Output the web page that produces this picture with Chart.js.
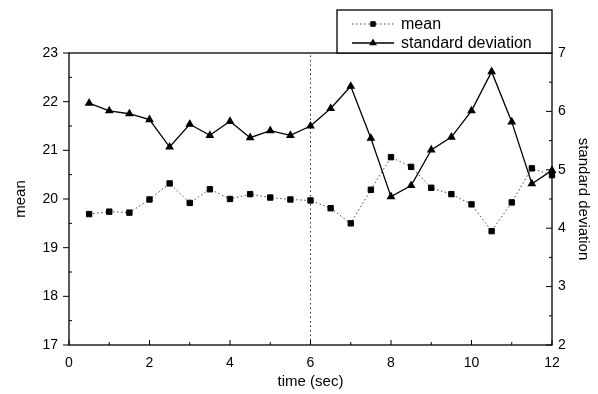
<!DOCTYPE html>
<html>
<head>
<meta charset="utf-8">
<script src="https://cdn.jsdelivr.net/npm/chart.js@4/dist/chart.umd.min.js"></script>
<style>
  html, body { margin: 0; padding: 0; background: #fff; }
  canvas { display: block; }
</style>
</head>
<body>
<canvas id="statsChart" width="598" height="394"></canvas>
<script>
// Time samples (sec)
const times = [0.5, 1, 1.5, 2, 2.5, 3, 3.5, 4, 4.5, 5, 5.5, 6,
               6.5, 7, 7.5, 8, 8.5, 9, 9.5, 10, 10.5, 11, 11.5, 12];

// Mean values (left axis)
const meanValues = [19.69, 19.74, 19.72, 19.99, 20.32, 19.92, 20.20, 20.00, 20.10, 20.03, 19.99, 19.97,
                    19.81, 19.50, 20.19, 20.86, 20.66, 20.23, 20.10, 19.89, 19.34, 19.93, 20.63, 20.49];

// Standard deviation values (right axis)
const stdValues = [6.14, 6.01, 5.96, 5.86, 5.39, 5.78, 5.59, 5.83, 5.55, 5.67, 5.59, 5.75,
                   6.05, 6.43, 5.54, 4.54, 4.73, 5.34, 5.56, 6.01, 6.68, 5.82, 4.76, 4.99];

// Vertical marker at t = 6 s
const markerTime = 6;

// Axis ranges and tick steps
const xRange = [0, 12];
const meanRange = [17, 23];
const stdRange = [2, 7];
const legendLabels = ['mean', 'standard deviation'];

const FONT = "'Liberation Sans', Arial, sans-serif";

const toPoints = (ys) => times.map((t, i) => ({ x: t, y: ys[i] }));

// Frame, tick marks and the legend box
const framePlugin = {
  id: 'frame',
  afterDraw(chart) {
    const { ctx, chartArea: a, scales } = chart;
    ctx.save();
    ctx.strokeStyle = '#000';
    ctx.lineWidth = 1.3;
    ctx.strokeRect(a.left, a.top, a.right - a.left, a.bottom - a.top);

    ctx.lineWidth = 1;
    ctx.beginPath();
    // bottom axis: major every 2, minor every 1, pointing inward
    for (let v = xRange[0]; v <= xRange[1]; v += 1) {
      const px = scales.x.getPixelForValue(v);
      const len = v % 2 === 0 ? 5 : 3;
      ctx.moveTo(px, a.bottom);
      ctx.lineTo(px, a.bottom - len);
    }
    // left axis: major outward, minor inward
    for (let v = meanRange[0]; v <= meanRange[1]; v += 0.5) {
      const py = scales.y.getPixelForValue(v);
      if (Number.isInteger(v)) {
        ctx.moveTo(a.left - 6, py);
        ctx.lineTo(a.left, py);
      } else {
        ctx.moveTo(a.left, py);
        ctx.lineTo(a.left + 3, py);
      }
    }
    // right axis: all inward
    for (let v = stdRange[0]; v <= stdRange[1]; v += 0.5) {
      const py = scales.y1.getPixelForValue(v);
      const len = Number.isInteger(v) ? 6 : 3;
      ctx.moveTo(a.right, py);
      ctx.lineTo(a.right - len, py);
    }
    ctx.stroke();

    // legend
    const box = { left: 337, top: 10, right: a.right, bottom: a.top };
    ctx.fillStyle = '#fff';
    ctx.fillRect(box.left, box.top, box.right - box.left, box.bottom - box.top);
    ctx.lineWidth = 1.3;
    ctx.strokeRect(box.left, box.top, box.right - box.left, box.bottom - box.top);

    const rows = [box.top + 14, box.top + 33];
    chart.data.datasets.slice(0, 2).forEach((ds, i) => {
      const y = rows[i];
      ctx.beginPath();
      ctx.strokeStyle = ds.borderColor;
      ctx.lineWidth = ds.borderWidth;
      ctx.setLineDash(ds.borderDash || []);
      ctx.moveTo(352, y);
      ctx.lineTo(394, y);
      ctx.stroke();
      ctx.setLineDash([]);
      ctx.fillStyle = ds.pointBackgroundColor;
      ctx.strokeStyle = ds.pointBorderColor;
      Chart.helpers.drawPoint(ctx, {
        pointStyle: ds.pointStyle, radius: ds.pointRadius - 0.6, borderWidth: 1
      }, 373, y);
      ctx.fillStyle = '#000';
      ctx.font = '16px ' + FONT;
      ctx.textBaseline = 'middle';
      ctx.fillText(legendLabels[i], 401, y + 1);
    });
    ctx.restore();
  }
};

const ctx = document.getElementById('statsChart').getContext('2d');
new Chart(ctx, {
  type: 'line',
  data: {
    datasets: [
      {
        label: legendLabels[0],
        data: toPoints(meanValues),
        yAxisID: 'y',
        borderColor: '#444',
        borderWidth: 1,
        borderDash: [1.5, 2.5],
        pointStyle: 'rect',
        pointRadius: 3.8,
        pointBackgroundColor: '#000',
        pointBorderColor: '#000',
        clip: false
      },
      {
        label: legendLabels[1],
        data: toPoints(stdValues),
        yAxisID: 'y1',
        borderColor: '#000',
        borderWidth: 1.3,
        pointStyle: 'triangle',
        pointRadius: 3.8,
        pointBackgroundColor: '#000',
        pointBorderColor: '#000',
        clip: false
      },
      {
        label: 'marker',
        data: [{ x: markerTime, y: meanRange[0] }, { x: markerTime, y: meanRange[1] }],
        yAxisID: 'y',
        borderColor: '#333',
        borderWidth: 1,
        borderDash: [1.5, 3],
        pointRadius: 0
      }
    ]
  },
  options: {
    responsive: false,
    animation: false,
    layout: { padding: { top: 53, left: 0, right: 0, bottom: 0 } },
    plugins: {
      legend: { display: false },
      tooltip: { enabled: false }
    },
    scales: {
      x: {
        type: 'linear',
        min: xRange[0],
        max: xRange[1],
        afterFit: (s) => { s.height = 49; },
        border: { display: false },
        grid: { drawOnChartArea: false, drawTicks: false },
        ticks: { stepSize: 2, padding: 10, color: '#000', font: { family: FONT, size: 14 } },
        title: {
          display: true, text: 'time (sec)', color: '#000',
          font: { family: FONT, size: 15 }, padding: { top: 0, bottom: 3 }
        }
      },
      y: {
        type: 'linear',
        position: 'left',
        min: meanRange[0],
        max: meanRange[1],
        afterFit: (s) => { s.width = 69; },
        border: { display: false },
        grid: { drawOnChartArea: false, drawTicks: false },
        ticks: { stepSize: 1, padding: 11, color: '#000', font: { family: FONT, size: 14 } },
        title: {
          display: true, text: 'mean', color: '#000',
          font: { family: FONT, size: 15 }, padding: { top: 12, bottom: 0 }
        }
      },
      y1: {
        type: 'linear',
        position: 'right',
        min: stdRange[0],
        max: stdRange[1],
        afterFit: (s) => { s.width = 46; },
        border: { display: false },
        grid: { drawOnChartArea: false, drawTicks: false },
        ticks: { stepSize: 1, padding: 6, color: '#000', font: { family: FONT, size: 14 } },
        title: {
          display: true, text: 'standard deviation', color: '#000',
          font: { family: FONT, size: 15 }, padding: { top: 6, bottom: 0 }
        }
      }
    }
  },
  plugins: [framePlugin]
});
</script>
</body>
</html>
